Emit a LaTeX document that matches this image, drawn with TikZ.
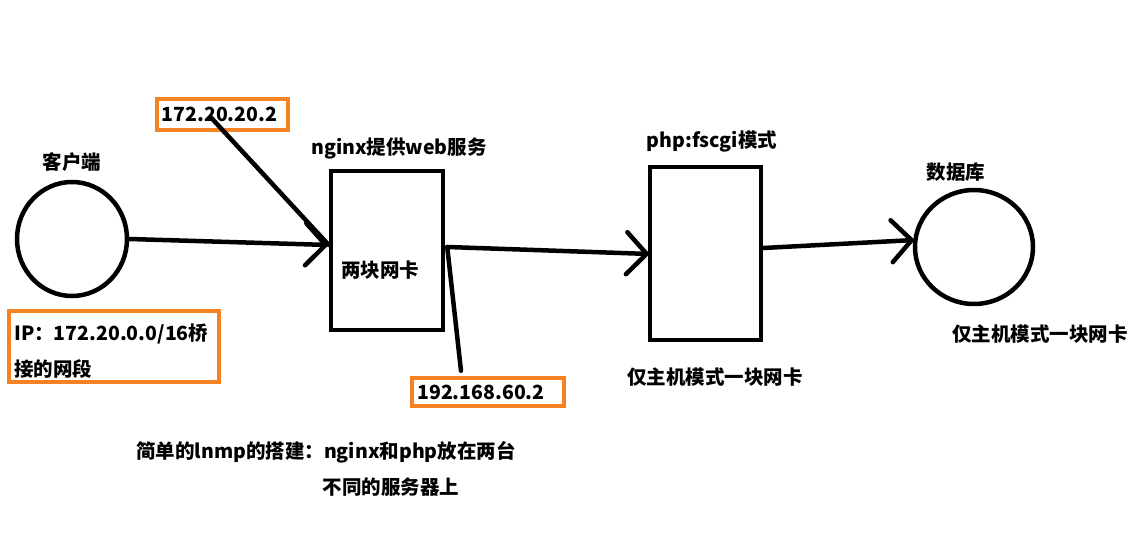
\documentclass[tikz,border=0pt]{standalone}
\usepackage{fontspec}
\setmainfont{Noto Sans CJK SC}
\usetikzlibrary{arrows.meta,calc,shapes.geometric}
\definecolor{orng}{RGB}{246,130,34}
\begin{document}
\begin{tikzpicture}[x=1pt,y=-1pt,
  txt/.style={font=\bfseries\fontsize{19.5}{23}\selectfont, inner sep=0pt},
  obox/.style={draw=orng, line width=4.5pt, inner sep=0pt},
  kbox/.style={draw=black, line width=4.5pt, inner sep=0pt},
  conn/.style={line width=4.5pt, line cap=round},
  arr/.style={conn, -{Straight Barb[length=20pt,width=42pt,line cap=round]}}]
\useasboundingbox[fill=white] (0,0) rectangle (1136,534);
% nodes
\node[kbox, ellipse, minimum width=110pt, minimum height=114pt] (client) at (72,239) {};
\node[kbox, ellipse, minimum width=118pt, minimum height=114pt] (db) at (974,247) {};
\node[kbox, minimum width=112pt, minimum height=159pt] (nginx) at (387,250.5) {};
\node[kbox, minimum width=111pt, minimum height=173pt] (php) at (705.5,253.5) {};
\node[obox, minimum width=131pt, minimum height=31pt, txt] (ip1) at (222.5,114.5) {\hspace*{-6pt}172.20.20.2};
\node[obox, minimum width=152pt, minimum height=28pt, txt] (ip2) at (488,392) {\hspace*{-14pt}192.168.60.2};
\node[obox, minimum width=210pt, minimum height=71pt] (net) at (114,346.5) {};
\node[txt, anchor=west] (netl1) at (14,334) {IP：172.20.0.0/16桥};
\node[txt, anchor=west] (netl2) at (14,369) {接的网段};
% labels
\node[txt] (lclient) at (72,162) {客户端};
\node[txt] (lnginx) at (399,148) {nginx提供web服务};
\node[txt] (lnic) at (380,270) {两块网卡};
\node[txt] (lphp) at (712,141) {php:fscgi模式};
\node[txt] (ldb) at (956,172) {数据库};
\node[txt] (ldbmode) at (1040,334) {仅主机模式一块网卡};
\node[txt] (lphpmode) at (715,377) {仅主机模式一块网卡};
\node[txt] (cap1) at (326,452) {简单的lnmp的搭建：nginx和php放在两台};
\node[txt] (cap2) at (391,487) {不同的服务器上};
% connector anchors
\coordinate (t1) at ($(nginx.west)+(0,-5.5)$);
\coordinate (n2) at ($(nginx.east)+(2,-3.5)$);
\coordinate (p1) at ($(ip1.center)+(-12,2.5)$);
\coordinate (q2) at ($(ip2.north)+(-27,-5)$);
% connectors
\draw[arr] (client.east) -- (t1);
\draw[conn] (p1) -- (t1);
\draw[arr] (n2) -- ($(php.west)+(2,0.5)$);
\draw[conn] (n2) -- (q2);
\draw[arr] ($(php.east)+(0,-5.5)$) -- ($(db.west)+(2,-7)$);
\end{tikzpicture}
\end{document}
